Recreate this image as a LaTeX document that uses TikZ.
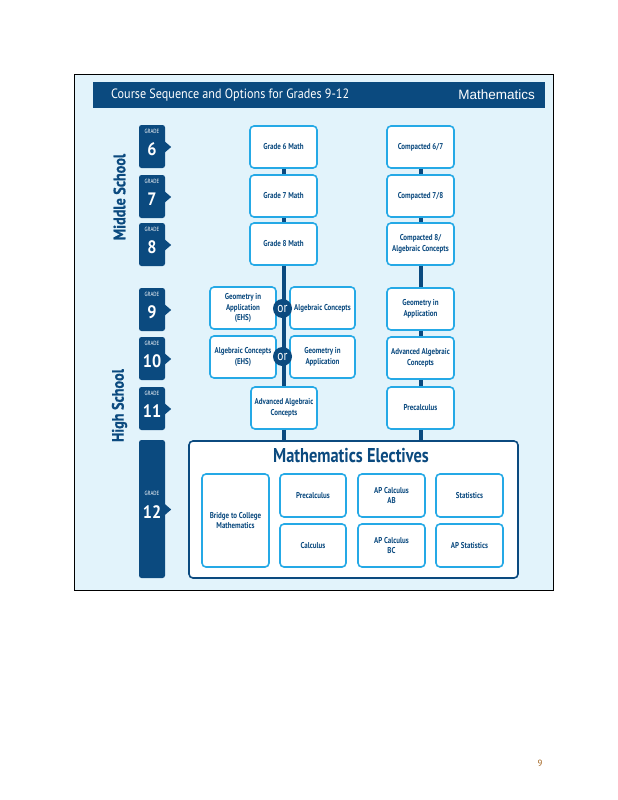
\documentclass[tikz,border=0pt]{standalone}
\usepackage{fontspec}
\setmainfont{PT Sans}
\newfontfamily\cond[FakeStretch=0.82]{PT Sans}
\newfontfamily\condw[FakeStretch=0.9]{PT Sans}
\newfontfamily\heavy[FakeStretch=0.86, BoldFeatures={FakeBold=0.8}]{PT Sans}
\newfontfamily\arialf{Liberation Sans}
\usetikzlibrary{calc}
\definecolor{navy}{HTML}{0B4A7F}
\definecolor{skyb}{HTML}{25A9E6}
\definecolor{paleb}{HTML}{E2F3FB}
\definecolor{pgnum}{HTML}{A0601A}
\begin{document}
\begin{tikzpicture}[x=1pt,y=-1pt,
  crs/.style={draw=skyb, line width=1.6pt, fill=white, rounded corners=4pt, text=navy,
    font=\cond\bfseries\fontsize{8.5}{10.5}\selectfont, align=center, inner sep=1pt,
    minimum width=67pt, minimum height=42pt},
  narrowcrs/.style={crs, minimum width=65pt},
  tallcrs/.style={crs, minimum height=43pt},
  tab/.style={fill=navy, rounded corners=2.5pt, minimum width=26pt, inner sep=0pt},
  gradelbl/.style={text=white, font=\cond\fontsize{6}{6}\selectfont, inner sep=0pt},
  gradenum/.style={text=white, font=\condw\bfseries\fontsize{18}{18}\selectfont, inner sep=0pt},
  conn/.style={draw=navy, line width=4pt},
  orc/.style={circle, fill=navy, minimum size=19pt, inner sep=0pt, text=white,
    font=\cond\fontsize{14}{14}\selectfont},
  school/.style={rotate=90, text=navy, font=\heavy\bfseries\fontsize{16.5}{16.5}\selectfont, inner sep=0pt}
]
\useasboundingbox (0,0) rectangle (618,800);
\fill[white] (0,0) rectangle (618,800);
% frame
\node[draw=black, line width=0.8pt, fill=paleb, minimum width=479pt, minimum height=516pt, inner sep=0pt] (frame) at (313.5,332) {};
% header
\node[fill=navy, minimum width=452pt, minimum height=26pt, inner sep=0pt] (header) at (319,95) {};
\node[anchor=west, text=white, font=\condw\fontsize{13.5}{13.5}\selectfont, inner sep=0pt] (htitle) at (111,95) {Course Sequence and Options for Grades 9-12};
\node[anchor=east, text=white, font=\arialf\fontsize{13.5}{13.5}\selectfont, inner sep=0pt] (hmath) at (535,95) {Mathematics};

% school labels
\node[school] (ms) at (119.5,197) {Middle School};
\node[school] (hs) at (119.5,405.5) {High School};

% grade tabs
\foreach \nm/\cy/\h/\num in {g6/146.5/43/6, g7/196.5/43/7, g8/244.5/43/8, g9/309.5/43/9, g10/358.5/43/10, g11/408.5/43/11, g12/509/138/12}{
  \node[tab, minimum height=\h pt] (\nm) at (152,\cy) {};
  \fill[navy] ($(\nm.east)+(-1,-5.5)$) -- ($(\nm.east)+(6,0.5)$) -- ($(\nm.east)+(-1,6.5)$) -- cycle;
  \node[gradelbl] (\nm lbl) at ($(\nm.center)+(0,-15.5)$) {GRADE};
  \node[gradenum] (\nm num) at ($(\nm.center)+(0,3)$) {\num};
}

% left column
\node[crs] (m6) at (283.5,147) {Grade 6 Math};
\node[crs] (m7) at (283.5,196) {Grade 7 Math};
\node[crs] (m8) at (283.5,244) {Grade 8 Math};
\node[crs, minimum width=66pt] (geoehs) at (243,308) {Geometry in\\Application\\(EHS)};
\node[narrowcrs] (algc) at (322.5,308) {Algebraic Concepts};
\node[crs, minimum width=66pt] (algehs) at (243,357) {Algebraic Concepts\\(EHS)};
\node[narrowcrs] (geoapp) at (322.5,357) {Geometry in\\Application};
\node[crs, minimum width=66pt] (adv) at (284,408) {Advanced Algebraic\\Concepts};

% right column
\node[crs] (c67) at (420.5,147) {Compacted 6/7};
\node[crs] (c78) at (420.5,196) {Compacted 7/8};
\node[crs] (c8) at (420.5,244) {Compacted 8/\\Algebraic Concepts};
\node[crs] (rgeo) at (420.5,309) {Geometry in\\Application};
\node[crs] (radv) at (420.5,358) {Advanced Algebraic\\Concepts};
\node[crs] (rpre) at (420.5,408) {Precalculus};

% electives
\node[draw=navy, line width=1.6pt, fill=white, rounded corners=4pt, minimum width=329pt, minimum height=137pt, inner sep=0pt] (elec) at (353.5,509.5) {};
\node[text=navy, font=\cond\bfseries\fontsize{20}{20}\selectfont, inner sep=0pt] (electitle) at (351,456) {Mathematics Electives};
\node[crs, minimum height=93pt] (bridge) at (235.5,520.5) {Bridge to College\\Mathematics};
\node[tallcrs, minimum width=66pt] (epre) at (313,495.5) {Precalculus};
\node[tallcrs, minimum width=66pt] (ecalc) at (313,545.5) {Calculus};
\node[tallcrs] (apab) at (391.5,495.5) {AP Calculus\\AB};
\node[tallcrs] (apbc) at (391.5,545.5) {AP Calculus\\BC};
\node[tallcrs] (stats) at (469.5,495.5) {Statistics};
\node[tallcrs] (apstats) at (469.5,545.5) {AP Statistics};

% connectors
\draw[conn] (m6.south) -- (m7.north);
\draw[conn] (m7.south) -- (m8.north);
\draw[conn] (m8.south) -- (m8.south |- adv.north);
\draw[conn] (adv.south) -- (adv.south |- elec.north);
\draw[conn] (c67.south) -- (c78.north);
\draw[conn] (c78.south) -- (c8.north);
\draw[conn] (c8.south) -- (rgeo.north);
\draw[conn] (rgeo.south) -- (radv.north);
\draw[conn] (radv.south) -- (rpre.north);
\draw[conn] (rpre.south) -- (rpre.south |- elec.north);

% or circles
\node[orc] (or1) at (282.5,308.5) {or};
\node[orc] (or2) at (282.5,356.5) {or};

% page number
\node[text=pgnum, font=\fontsize{9}{9}\selectfont, inner sep=0pt] (pg) at (540,763) {9};
\end{tikzpicture}
\end{document}
